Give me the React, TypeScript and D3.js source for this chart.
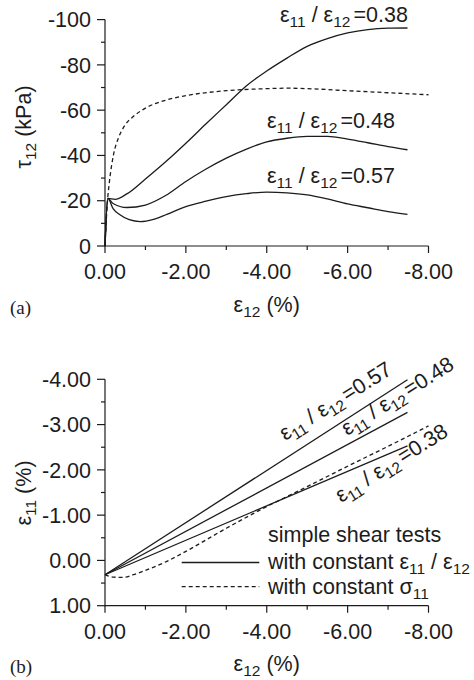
import React from "react";
import * as d3 from "d3";

// ---------- data ----------
// Panel (a): shear stress tau12 (kPa) vs shear strain eps12 (%)
const tauRatio038: [number, number][] = [
  [0, 0], [-0.07, -21], [-0.25, -20.6], [-0.54, -23.0], [-1.0, -29.6], [-1.5, -37.2],
  [-2.0, -45.4], [-2.5, -54], [-3.0, -62.4], [-3.5, -70.8], [-4.0, -77.3], [-4.5, -83],
  [-5.0, -88.2], [-5.5, -91.6], [-6.0, -94.1], [-6.5, -95.6], [-7.0, -96.2], [-7.48, -96.3],
];
const tauRatio048: [number, number][] = [
  [0, 0], [-0.07, -21], [-0.2, -18.8], [-0.54, -17.0], [-1.0, -18.1], [-1.5, -22.3],
  [-2.0, -28.5], [-2.5, -34], [-3.0, -38.8], [-3.5, -42.8], [-4.0, -46], [-4.5, -47.6],
  [-5.0, -48.4], [-5.5, -48.4], [-6.0, -47.2], [-6.5, -45.6], [-7.0, -43.9], [-7.48, -42.5],
];
const tauRatio057: [number, number][] = [
  [0, 0], [-0.07, -21], [-0.2, -16.5], [-0.37, -13.8], [-0.6, -11.6], [-0.87, -10.8],
  [-1.2, -11.8], [-1.53, -14.0], [-2.0, -17.4], [-2.5, -19.8], [-3.0, -21.8], [-3.5, -23.1],
  [-4.0, -23.8], [-4.5, -23.5], [-5.0, -22.6], [-5.5, -20.8], [-6.0, -18.6], [-6.5, -16.9],
  [-7.0, -15.2], [-7.48, -14.0],
];
const tauConstSigma: [number, number][] = [
  [0, 0], [-0.06, -19.6], [-0.11, -28.5], [-0.21, -40.3], [-0.33, -47.6], [-0.5, -53.5],
  [-0.7, -57.2], [-1.0, -60.9], [-1.5, -64.4], [-2.0, -66.4], [-3.0, -68.6], [-4.0, -69.5],
  [-4.5, -69.7], [-5.0, -69.5], [-6.0, -68.6], [-7.0, -67.7], [-8.0, -66.8],
];

// Panel (b): axial strain eps11 (%) vs shear strain eps12 (%)
const epsRatio057: [number, number][] = [[0, 0.316], [-7.48, -3.99]];
const epsRatio048: [number, number][] = [[0, 0.316], [-7.48, -3.27]];
const epsRatio038: [number, number][] = [[0, 0.316], [-7.48, -2.53]];
const epsConstSigma: [number, number][] = [
  [0, 0.316], [-0.21, 0.37], [-0.45, 0.375], [-0.7, 0.316], [-1.0, 0.22], [-1.53, 0.02],
  [-2.0, -0.2], [-3.0, -0.71], [-4.0, -1.19], [-5.0, -1.63], [-6.0, -2.08], [-7.0, -2.52],
  [-8.0, -2.97],
];

// ticks
const strainMajor = [0, -2, -4, -6, -8];
const strainMinor = [-1, -3, -5, -7];
const tauMajor = [0, -20, -40, -60, -80, -100];
const tauMinor = [-10, -30, -50, -70, -90];
const eps11Major = [1, 0, -1, -2, -3, -4];
const eps11Minor = [0.5, -0.5, -1.5, -2.5, -3.5];

const ratioLabels = ["0.38", "0.48", "0.57"];

// ---------- layout ----------
const W = 474;
const H = 680;
const SANS = "'Liberation Sans', Arial, Helvetica, sans-serif";
const SERIF = "'Liberation Serif', 'Times New Roman', serif";
const INK = "#1c1c1c";
const FS = 21.5;
const SUB = 15.5;

const xA = d3.scaleLinear().domain([0, -8]).range([105, 428.5]);
const yA = d3.scaleLinear().domain([0, -100]).range([246, 19.6]);
const xB = d3.scaleLinear().domain([0, -8]).range([105, 428.5]);
const yB = d3.scaleLinear().domain([1, -4]).range([605.7, 379.3]);

const fmt2 = (v: number) => (v === 0 ? "0.00" : v.toFixed(2));

function Sub({ main, sub, after }: { main: string; sub: string; after?: string }) {
  return (
    <>
      <tspan>{main}</tspan>
      <tspan fontSize={SUB} dy={5}>{sub}</tspan>
      {after !== undefined && <tspan dy={-5}>{after}</tspan>}
    </>
  );
}

function RatioText({ value }: { value: string }) {
  return (
    <>
      <tspan>ε</tspan>
      <tspan fontSize={SUB} dy={5}>11</tspan>
      <tspan dy={-5}>{" / ε"}</tspan>
      <tspan fontSize={SUB} dy={5}>12</tspan>
      <tspan dy={-5} dx={3}>{"=" + value}</tspan>
    </>
  );
}

function XAxis({ x, y0 }: { x: d3.ScaleLinear<number, number>; y0: number }) {
  const [r0, r1] = x.range();
  return (
    <g stroke={INK} strokeWidth={1.2}>
      <line x1={r0 - 0.6} x2={r1} y1={y0} y2={y0} />
      {strainMajor.map((v) => (
        <line key={"M" + v} x1={x(v)} x2={x(v)} y1={y0} y2={y0 + 7} />
      ))}
      {strainMinor.map((v) => (
        <line key={"m" + v} x1={x(v)} x2={x(v)} y1={y0} y2={y0 + 4} />
      ))}
      {strainMajor.map((v) => (
        <text key={"t" + v} x={x(v)} y={y0 + 33} textAnchor="middle" stroke="none" fill={INK}
          fontFamily={SANS} fontSize={FS}>
          {fmt2(v)}
        </text>
      ))}
    </g>
  );
}

function YAxis({ y, x0, major, minor, fmt }: {
  y: d3.ScaleLinear<number, number>; x0: number; major: number[]; minor: number[]; fmt: (v: number) => string;
}) {
  const [r0, r1] = y.range();
  return (
    <g stroke={INK} strokeWidth={1.2}>
      <line x1={x0} x2={x0} y1={r0 + 0.6} y2={r1} />
      {major.map((v) => (
        <line key={"M" + v} x1={x0 - 8} x2={x0} y1={y(v)} y2={y(v)} />
      ))}
      {minor.map((v) => (
        <line key={"m" + v} x1={x0 - 4} x2={x0} y1={y(v)} y2={y(v)} />
      ))}
      {major.map((v) => (
        <text key={"t" + v} x={x0 - 14} y={y(v)} dy="0.36em" textAnchor="end" stroke="none" fill={INK}
          fontFamily={SANS} fontSize={FS}>
          {fmt(v)}
        </text>
      ))}
    </g>
  );
}

export default function App() {
  const lineA = d3.line<[number, number]>()
    .x((d) => xA(d[0]))
    .y((d) => yA(d[1]))
    .curve(d3.curveMonotoneX);
  const lineB = d3.line<[number, number]>()
    .x((d) => xB(d[0]))
    .y((d) => yB(d[1]))
    .curve(d3.curveMonotoneX);

  const solidA = [tauRatio038, tauRatio048, tauRatio057];
  const solidB = [epsRatio057, epsRatio048, epsRatio038];

  const labelA = [
    { v: ratioLabels[0], x: 280, y: 21.7 },
    { v: ratioLabels[1], x: 267, y: 128.3 },
    { v: ratioLabels[2], x: 267, y: 182.5 },
  ];
  const labelB = [
    { v: ratioLabels[2], x: 285, y: 441 },
    { v: ratioLabels[1], x: 347, y: 436 },
    { v: ratioLabels[0], x: 341, y: 503 },
  ];

  return (
    <svg width={W} height={H} viewBox={`0 0 ${W} ${H}`}
      style={{ position: "absolute", left: 0, top: 0, background: "#fff" }}>
      <rect x={0} y={0} width={W} height={H} fill="#fff" />

      {/* ---------------- panel (a) ---------------- */}
      <g fill="none" stroke={INK} strokeWidth={1.3} strokeLinejoin="round">
        {solidA.map((s, i) => (
          <path key={i} d={lineA(s) ?? ""} />
        ))}
        <path d={lineA(tauConstSigma) ?? ""} strokeDasharray="4 3" />
      </g>
      <XAxis x={xA} y0={246} />
      <YAxis y={yA} x0={105} major={tauMajor} minor={tauMinor} fmt={(v) => String(v)} />
      {labelA.map((l) => (
        <text key={l.v} x={l.x} y={l.y} fill={INK} fontFamily={SANS} fontSize={FS}>
          <RatioText value={l.v} />
        </text>
      ))}
      <text x={266.7} y={311.5} textAnchor="middle" fill={INK} fontFamily={SANS} fontSize={FS}>
        <Sub main="ε" sub="12" after=" (%)" />
      </text>
      <text transform="translate(31,127) rotate(-90)" textAnchor="middle" fill={INK} fontFamily={SANS} fontSize={FS}>
        <Sub main="τ" sub="12" after=" (kPa)" />
      </text>
      <text x={10} y={314} fill={INK} fontFamily={SERIF} fontSize={19}>(a)</text>

      {/* ---------------- panel (b) ---------------- */}
      <g fill="none" stroke={INK} strokeWidth={1.3} strokeLinejoin="round">
        {solidB.map((s, i) => (
          <path key={i} d={lineB(s) ?? ""} />
        ))}
        <path d={lineB(epsConstSigma) ?? ""} strokeDasharray="4 3" />
      </g>
      <XAxis x={xB} y0={605.7} />
      <YAxis y={yB} x0={105} major={eps11Major} minor={eps11Minor} fmt={fmt2} />
      {labelB.map((l) => (
        <text key={l.v} transform={`translate(${l.x},${l.y}) rotate(-32)`} fill={INK} fontFamily={SANS} fontSize={FS}>
          <RatioText value={l.v} />
        </text>
      ))}

      {/* legend */}
      <text x={268} y={541.7} fill={INK} fontFamily={SANS} fontSize={FS}>simple shear tests</text>
      <line x1={181.7} x2={259.3} y1={562.5} y2={562.5} stroke={INK} strokeWidth={1.3} />
      <text x={268} y={568.5} fill={INK} fontFamily={SANS} fontSize={FS}>
        <tspan>with constant ε</tspan>
        <tspan fontSize={SUB} dy={5}>11</tspan>
        <tspan dy={-5}>{" / ε"}</tspan>
        <tspan fontSize={SUB} dy={5}>12</tspan>
      </text>
      <line x1={181.7} x2={259.3} y1={586.7} y2={586.7} stroke={INK} strokeWidth={1.3} strokeDasharray="4 3" />
      <text x={268} y={593.5} fill={INK} fontFamily={SANS} fontSize={FS}>
        <Sub main="with constant σ" sub="11" />
      </text>

      <text x={266.7} y={670.5} textAnchor="middle" fill={INK} fontFamily={SANS} fontSize={FS}>
        <Sub main="ε" sub="12" after=" (%)" />
      </text>
      <text transform="translate(31,493) rotate(-90)" textAnchor="middle" fill={INK} fontFamily={SANS} fontSize={FS}>
        <Sub main="ε" sub="11" after=" (%)" />
      </text>
      <text x={10} y={672.5} fill={INK} fontFamily={SERIF} fontSize={19}>(b)</text>
    </svg>
  );
}
